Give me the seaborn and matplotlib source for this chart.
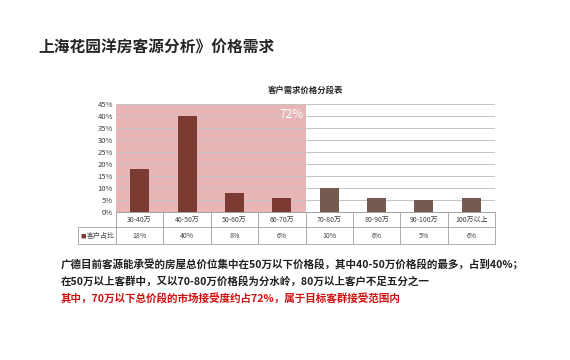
import matplotlib
matplotlib.use('Agg')
import matplotlib.pyplot as plt
import seaborn as sns
import pandas as pd

# chart data
categories = ['30-40万', '40-50万', '50-60万', '60-70万', '70-80万', '80-90万', '90-100万', '100万以上']
shares = [18, 40, 8, 6, 10, 6, 5, 6]
share_labels = ['18%', '40%', '8%', '6%', '10%', '6%', '5%', '6%']
ytick_labels = ['0%', '5%', '10%', '15%', '20%', '25%', '30%', '35%', '40%', '45%']
highlight_n = 4  # first four bands are below 70万

df = pd.DataFrame({'cat': categories, 'share': shares})

sns.set_style('white')
plt.rcParams['font.family'] = ['Noto Sans CJK SC', 'DejaVu Sans']

f = plt.figure(figsize=(5.7, 3.6), dpi=100)
ax = f.add_axes([0.2035, 0.411, 0.665, 0.30])

colors = ['#7b3a32'] * highlight_n + ['#745a4f'] * (len(categories) - highlight_n)
sns.barplot(data=df, x='cat', y='share', hue='cat', palette=colors, legend=False,
            width=0.4, ax=ax, saturation=1, zorder=3, edgecolor='none', linewidth=0)

ax.axvspan(-0.5, highlight_n - 0.5, color='#e8b6b6', zorder=1, lw=0)
ax.set_xlim(-0.5, len(categories) - 0.5)
ax.set_ylim(0, 45)
ax.set_yticks(range(0, 46, 5))
ax.set_yticklabels(ytick_labels, fontsize=5.5, color='#404040')
ax.set_axisbelow(False)
ax.yaxis.grid(True, color='#c4c4c4', lw=0.7)
ax.tick_params(axis='y', length=0, pad=2)
ax.set_xticks([])
ax.set_xlabel('')
ax.set_ylabel('')
for s in ['top', 'right', 'left']:
    ax.spines[s].set_visible(False)
ax.spines['bottom'].set_color('#a0a0a0')
ax.spines['bottom'].set_linewidth(0.7)

ax.text(highlight_n - 0.55, 43.5, '72%', color='white', fontsize=8.5, ha='right', va='top', zorder=4)

ax.set_title('客户需求价格分段表', fontsize=6, fontweight='bold', pad=8)

# data table under the axes
bt = ax.get_xaxis_transform()
mid = -0.14
bottom = -0.3
tbl_color = '#a0a0a0'
ax.plot([-1.3, 7.5], [mid] * 2, transform=bt, clip_on=False, color=tbl_color, lw=0.6)
ax.plot([-1.3, 7.5], [bottom] * 2, transform=bt, clip_on=False, color=tbl_color, lw=0.6)
ax.plot([-1.3, -1.3], [mid, bottom], transform=bt, clip_on=False, color=tbl_color, lw=0.6)
for i in range(len(categories) + 1):
    ax.plot([i - 0.5, i - 0.5], [0, bottom], transform=bt, clip_on=False, color=tbl_color, lw=0.6)
for i, (c, v) in enumerate(zip(categories, share_labels)):
    ax.text(i, -0.07, c, transform=bt, ha='center', va='center', fontsize=5, color='#404040')
    ax.text(i, -0.22, v, transform=bt, ha='center', va='center', fontsize=5, color='#404040')
ax.text(-1.25, -0.22, '■', transform=bt, ha='left', va='center', fontsize=4, color='#7b3a32')
ax.text(-1.12, -0.22, '客户占比', transform=bt, ha='left', va='center', fontsize=5, color='#404040')

# page texts
f.text(0.067, 0.868, '上海花园洋房客源分析》价格需求', fontsize=11.3, fontweight='bold', va='center')
f.text(0.107, 0.265, '广德目前客源能承受的房屋总价位集中在50万以下价格段，其中40-50万价格段的最多，占到40%；',
       fontsize=7.6, fontweight='bold', va='center', color='#202020')
f.text(0.107, 0.219, '在50万以上客群中，又以70-80万价格段为分水岭，80万以上客户不足五分之一',
       fontsize=7.6, fontweight='bold', va='center', color='#202020')
f.text(0.107, 0.172, '其中，70万以下总价段的市场接受度约占72%，属于目标客群接受范围内',
       fontsize=7.6, fontweight='bold', va='center', color='#d01010')

f.savefig('out.png', dpi=100)
